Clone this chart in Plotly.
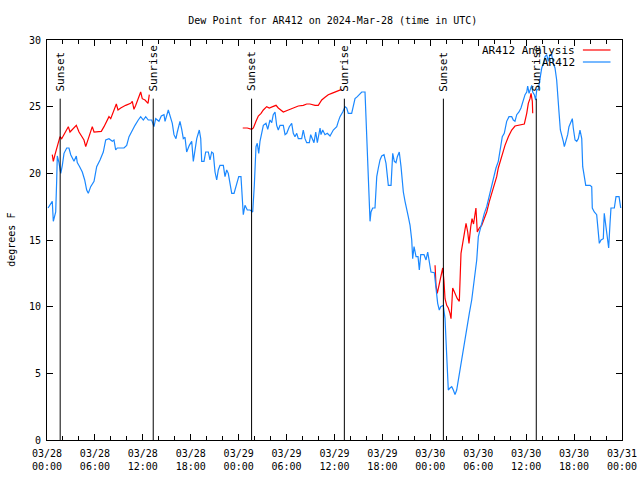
import pandas as pd
import plotly.graph_objects as go

# ---------------- data ----------------
start_time = "2024-03-28 00:00"

# AR412 observed dew point (hours since start, degrees F)
obs_hours = [0.13, 0.66, 0.79, 1.09, 1.21, 1.29, 1.50, 1.72, 1.92, 2.13, 2.47, 2.75, 2.97, 3.38, 3.67, 3.79,
             4.09, 4.42, 4.72, 4.97, 5.17, 5.47, 5.89, 6.22, 6.64, 7.05, 7.35, 7.76, 8.18, 8.39, 8.60, 8.80,
             9.64, 9.98, 10.27, 10.68, 11.02, 11.43, 11.73, 12.06, 12.36, 12.68, 13.11, 13.40, 13.61, 14.02,
             14.31, 14.65, 14.78, 15.19, 15.49, 15.69, 15.90, 16.15, 16.32, 16.65, 16.87, 17.07, 17.28, 17.49,
             17.82, 18.12, 18.32, 18.53, 18.75, 19.07, 19.25, 19.37, 19.66, 19.87, 20.20, 20.41, 20.62, 20.82,
             21.04, 21.25, 21.45, 21.66, 22.08, 22.29, 22.50, 22.70, 22.92, 23.13, 23.42, 23.75, 24.01, 24.29,
             24.46, 24.58, 24.79, 25.08, 25.42, 25.76, 25.96, 26.17, 26.33, 26.51, 26.67, 26.88, 27.09, 27.42,
             27.64, 27.92, 28.14, 28.33, 28.55, 28.76, 28.96, 29.18, 29.59, 29.81, 30.02, 30.34, 30.64, 30.84,
             31.05, 31.27, 31.47, 31.89, 32.09, 32.31, 32.52, 32.85, 33.02, 33.22, 33.43, 33.65, 33.85, 34.19,
             34.31, 34.52, 34.81, 35.10, 35.44, 35.85, 36.28, 36.48, 36.69, 37.03, 37.32, 37.53, 37.73, 38.15,
             38.36, 38.57, 38.86, 39.19, 39.41, 39.82, 40.03, 40.23, 40.36, 40.45, 40.57, 40.78, 41.07, 41.29,
             41.49, 41.70, 41.91, 42.20, 42.45, 42.74, 43.08, 43.29, 43.49, 43.70, 43.87, 44.11, 44.33, 44.62,
             44.83, 45.04, 45.24, 45.46, 45.67, 45.79, 45.96, 46.21, 46.46, 46.62, 46.80, 47.21, 47.46, 47.67,
             47.87, 48.08, 48.50, 48.71, 48.92, 49.12, 49.30, 49.62, 49.84, 49.96, 50.13, 50.25, 50.46, 50.68,
             50.88, 51.09, 51.30, 51.50, 51.72, 51.93, 52.22, 52.55, 52.88, 53.18, 53.47, 53.81, 54.01, 54.22,
             54.51, 54.76, 55.06, 55.35, 55.60, 55.89, 56.22, 56.51, 56.85, 57.01, 57.26, 57.56, 57.85, 58.19,
             58.39, 58.60, 58.82, 59.10, 59.35, 59.64, 59.86, 60.07, 60.19, 60.36, 60.48, 60.69, 60.82, 61.02,
             61.19, 61.32, 61.52, 61.73, 61.95, 62.15, 62.36, 62.57, 62.77, 62.98, 63.19, 63.40, 63.61, 63.82,
             63.95, 64.11, 64.28, 64.45, 64.65, 64.78, 64.99, 65.20, 65.36, 65.61, 65.78, 65.90, 66.12, 66.33,
             66.53, 66.74, 66.96, 67.08, 67.25, 67.46, 68.00, 68.21, 68.28, 68.53, 68.83, 69.03, 69.16, 69.37,
             69.66, 69.78, 69.96, 70.21, 70.33, 70.50, 70.62, 71.04, 71.25, 71.63, 71.84]
obs_dewpt = [17.4, 17.9, 16.4, 17.1, 19.4, 21.3, 20.8, 20.0, 20.6, 21.5, 21.9, 21.9, 21.4, 20.9, 21.3, 20.8,
             20.5, 20.1, 19.5, 18.75, 18.5, 19.0, 19.4, 20.5, 21.0, 21.6, 22.5, 22.6, 22.4, 22.5, 21.75, 21.9,
             21.9, 22.1, 22.75, 23.25, 23.6, 24.0, 24.25, 24.0, 24.25, 24.0, 24.0, 23.5, 24.1, 23.9,
             24.3, 24.4, 23.9, 24.75, 24.1, 23.75, 22.9, 22.6, 23.1, 23.9, 23.3, 22.6, 22.7, 21.6,
             22.1, 22.4, 20.9, 21.9, 22.6, 23.25, 22.6, 20.9, 20.9, 21.6, 21.6, 21.0, 21.6, 21.5,
             20.1, 19.5, 20.25, 20.6, 20.6, 19.75, 20.25, 20.0, 19.1, 18.5, 18.5, 19.1, 19.75, 19.75,
             17.6, 16.9, 17.6, 17.25, 17.25, 17.1, 19.1, 22.0, 22.25, 21.5, 22.4, 23.1, 23.6, 23.75,
             23.3, 24.0, 23.8, 24.4, 24.6, 23.6, 23.25, 23.6, 23.6, 22.9, 23.0, 23.5, 23.75, 23.0,
             22.75, 23.0, 22.6, 22.6, 23.25, 22.6, 22.3, 22.3, 22.9, 22.6, 22.3, 23.1, 22.3, 23.4,
             22.9, 23.25, 22.9, 23.0, 22.8, 23.25, 23.5, 23.9, 24.25, 24.6, 25.0, 24.9, 24.5, 24.5,
             25.0, 25.6, 25.75, 26.0, 26.1, 26.1, 22.5, 19.9, 17.5, 16.4, 17.1, 17.4, 17.4, 19.75,
             20.4, 21.0, 21.3, 21.4, 20.75, 19.1, 19.1, 21.5, 20.9, 20.8, 21.25, 21.6, 20.5, 18.6,
             17.9, 17.4, 16.75, 16.1, 15.0, 13.6, 14.5, 13.75, 13.75, 12.75, 13.9, 13.9, 13.5, 14.1,
             13.4, 12.6, 12.55, 11.5, 10.25, 9.75, 10.0, 10.1, 9.1, 7.5, 5.75, 3.75, 3.9, 4.0,
             3.75, 3.4, 3.75, 4.5, 5.25, 6.1, 7.25, 8.4, 9.5, 10.5, 11.75, 13.5, 15.25, 15.75,
             16.5, 17.0, 17.5, 18.25, 19.0, 19.75, 20.4, 20.9, 22.0, 22.75, 23.0, 23.9, 24.25, 24.25,
             24.0, 23.9, 24.4, 24.6, 24.9, 25.5, 25.9, 26.1, 26.55, 26.0, 26.3, 26.6, 26.1, 25.9,
             25.5, 26.25, 26.3, 27.0, 27.9, 28.25, 28.75, 28.9, 28.4, 28.9, 28.9, 28.25, 27.9, 27.0,
             25.5, 24.6, 23.25, 22.9, 22.4, 22.0, 22.4, 22.9, 23.5, 23.9, 24.1, 23.4, 22.5, 22.4,
             22.6, 23.25, 22.6, 20.5, 19.9, 19.1, 19.1, 19.0, 17.4, 17.1, 16.9, 15.75, 14.75, 15.0,
             15.1, 17.0, 16.25, 14.9, 14.4, 16.25, 17.4, 17.4, 18.25, 18.25, 17.4]

# AR412 Analysis dew point, three separate segments
ana1_hours = [0.66, 0.79, 1.00, 1.21, 1.42, 1.63, 1.84, 2.13, 2.47, 2.67, 2.88, 3.17, 3.67, 4.01, 4.35, 4.63,
              4.85, 5.13, 5.47, 5.67, 5.89, 6.30, 6.80, 7.14, 7.48, 7.76, 7.98, 8.26, 8.51, 8.68, 8.89, 9.23,
              9.85, 10.48, 10.68, 10.89, 11.11, 11.43, 11.73, 11.93, 12.27, 12.65, 12.81]
ana1_dewpt = [21.4, 20.9, 21.4, 21.9, 22.4, 22.75, 22.6, 22.9, 23.25, 23.5, 23.1, 23.3, 23.6, 23.1, 22.75, 22.5,
              22.0, 22.5, 23.1, 23.5, 23.1, 23.1, 23.15, 23.5, 23.9, 24.25, 24.1, 24.6, 24.9, 25.2, 24.75, 24.9,
              25.1, 25.25, 25.4, 24.8, 25.1, 25.6, 26.1, 25.6, 25.5, 25.25, 25.9]
ana2_hours = [24.51, 25.08, 25.63, 25.84, 26.17, 26.46, 26.80, 27.09, 27.51, 27.84, 28.26, 28.68, 28.96, 29.59,
              30.22, 30.84, 31.47, 32.09, 32.52, 32.93, 33.56, 33.97, 34.40, 34.81, 35.22, 35.65, 36.06, 36.48,
              36.90]
ana2_dewpt = [23.4, 23.4, 23.3, 23.4, 23.9, 24.3, 24.5, 24.75, 25.0, 24.9, 25.0, 25.1, 24.9, 24.6,
              24.75, 24.9, 25.05, 25.1, 25.2, 25.2, 25.1, 25.1, 25.5, 25.7, 25.9, 26.0, 26.1, 26.25,
              26.3]
ana3_hours = [48.59, 48.71, 48.87, 49.12, 49.42, 49.55, 49.71, 49.84, 50.05, 50.25, 50.46, 50.59, 50.80, 51.09,
              51.38, 51.63, 51.72, 51.84, 52.05, 52.25, 52.47, 52.68, 52.84, 53.06, 53.22, 53.41, 53.59, 53.71,
              53.88, 54.13, 54.43, 54.72, 55.06, 55.39, 55.69, 55.97, 56.31, 56.51, 56.93, 57.35, 57.77, 58.19,
              58.60, 59.23, 59.77, 60.07, 60.27, 60.48, 60.61, 60.77, 60.82]
ana3_dewpt = [13.1, 11.6, 11.0, 11.75, 12.4, 12.9, 11.9, 10.6, 10.1, 9.9, 9.5, 9.1, 11.4, 11.0,
              10.6, 10.4, 11.75, 14.0, 14.75, 15.4, 16.25, 15.6, 14.75, 16.0, 16.6, 16.2, 17.1, 17.4,
              15.6, 15.9, 16.1, 16.5, 17.1, 17.9, 18.5, 19.1, 19.75, 20.4, 21.25, 22.1, 22.75, 23.25,
              23.55, 23.6, 23.7, 24.5, 25.25, 25.6, 26.0, 25.4, 24.5]

# Sun events
sun_times = ["2024-03-28 01:39", "2024-03-28 13:18", "2024-03-29 01:37",
             "2024-03-29 13:14", "2024-03-30 01:38", "2024-03-30 13:16"]
sun_labels = ["Sunset", "Sunrise", "Sunset", "Sunrise", "Sunset", "Sunrise"]
sun_line_top = 25.6
sun_label_base = 26.0

y_ticks = [0, 5, 10, 15, 20, 25, 30]

# ---------------- build ----------------
base = pd.Timestamp(start_time)


def to_time(hours):
    return [base + pd.Timedelta(hours=h) for h in hours]


ana_x, ana_y = [], []
for hs, vs in [(ana1_hours, ana1_dewpt), (ana2_hours, ana2_dewpt), (ana3_hours, ana3_dewpt)]:
    if ana_x:
        ana_x.append(None)
        ana_y.append(None)
    ana_x += to_time(hs)
    ana_y += vs

RED = "#ff0000"
BLUE = "#1a88ff"
FONT = "DejaVu Sans Mono"

fig = go.Figure()
fig.add_trace(go.Scatter(x=ana_x, y=ana_y, mode="lines", name="AR412 Analysis",
                         line=dict(color=RED, width=1.2), connectgaps=False))
fig.add_trace(go.Scatter(x=to_time(obs_hours), y=obs_dewpt, mode="lines", name="AR412",
                         line=dict(color=BLUE, width=1.2)))

for t, lab in zip(sun_times, sun_labels):
    ts = pd.Timestamp(t)
    fig.add_shape(type="line", x0=ts, x1=ts, y0=0, y1=sun_line_top, xref="x", yref="y",
                  line=dict(color="black", width=1))
    fig.add_annotation(x=ts, y=sun_label_base, xref="x", yref="y", text=lab, textangle=-90,
                       showarrow=False, xanchor="center", yanchor="bottom",
                       font=dict(family=FONT, size=11, color="black"))

# gnuplot-style legend (text left of sample line)
legend_items = [("AR412 Analysis", RED, 0.975), ("AR412", BLUE, 0.945)]
for name, col, yp in legend_items:
    fig.add_annotation(x=0.922, y=yp, xref="paper", yref="paper", text=name, showarrow=False,
                       xanchor="right", yanchor="middle", font=dict(family=FONT, size=11, color="black"))
    fig.add_shape(type="line", x0=0.932, x1=0.98, y0=yp, y1=yp, xref="paper", yref="paper",
                  line=dict(color=col, width=1.2))

# y-axis label
fig.add_annotation(x=-0.063, y=0.5, xref="paper", yref="paper", text="degrees F", textangle=-90,
                   showarrow=False, xanchor="center", yanchor="middle",
                   font=dict(family=FONT, size=10, color="black"))

fig.update_layout(
    width=640, height=480,
    margin=dict(l=47, r=18, t=40, b=40, autoexpand=False),
    paper_bgcolor="white", plot_bgcolor="white",
    showlegend=False,
    font=dict(family=FONT, size=10, color="black"),
    title=dict(text="Dew Point for AR412 on 2024-Mar-28 (time in UTC)", x=0.52, xanchor="center",
               y=0.958, yanchor="middle", font=dict(family=FONT, size=10, color="black")),
)
fig.update_xaxes(
    range=[base, base + pd.Timedelta(hours=72)], automargin=False,
    tickmode="linear", tick0=base, dtick=6 * 3600 * 1000,
    tickformat="%m/%d<br>%H:%M", ticklabelstandoff=4,
    ticks="inside", ticklen=6, tickcolor="black", tickwidth=1,
    minor=dict(ticks="inside", dtick=2 * 3600 * 1000, ticklen=4, tickcolor="black", showgrid=False),
    showline=True, linecolor="black", linewidth=1, mirror="allticks",
    showgrid=False, zeroline=False,
    tickfont=dict(family=FONT, size=10, color="black"),
)
fig.update_yaxes(
    range=[0, 30], automargin=False, tickmode="array", tickvals=y_ticks,
    ticks="inside", ticklen=6, tickcolor="black", tickwidth=1, ticklabelstandoff=3,
    showline=True, linecolor="black", linewidth=1, mirror="allticks",
    showgrid=False, zeroline=False,
    tickfont=dict(family=FONT, size=10, color="black"),
)

fig.write_html("out.html", config={"displayModeBar": False},
               post_script="document.body.style.margin='0px';document.body.style.overflow='hidden';")
